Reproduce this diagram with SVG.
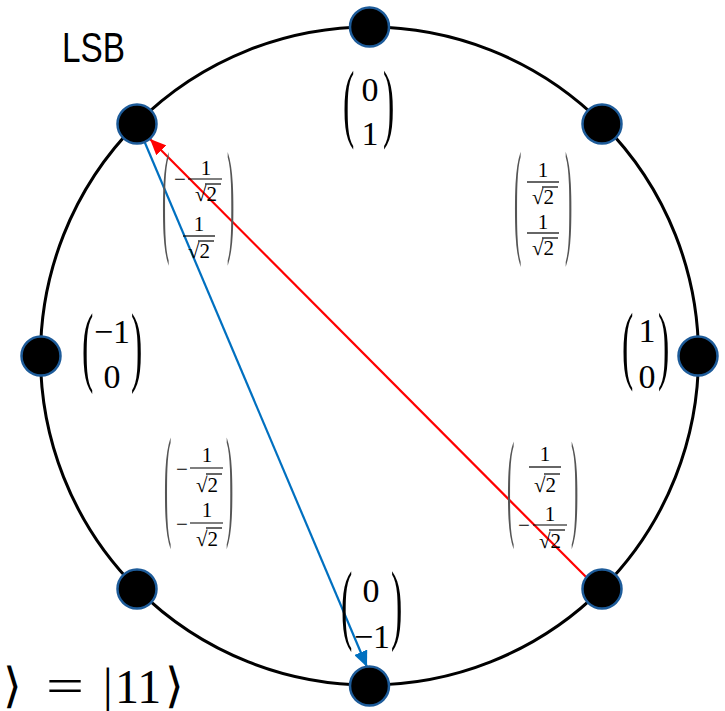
<svg xmlns="http://www.w3.org/2000/svg" width="725" height="711" viewBox="0 0 725 711">
<style>
.m{font-family:"Liberation Serif","Times New Roman",serif;fill:#000}
.big{font-size:34px}
.sm{font-size:21px}
.bp{font-family:"Liberation Serif",serif;font-size:34px;fill:#000}
.sp{font-family:"Liberation Serif",serif;font-size:22px;fill:#555}
.bar{stroke:#000;stroke-width:1.2}
.node{fill:#000;stroke:#1d5b99;stroke-width:2.5}
.eq{font-family:"Liberation Serif","Times New Roman",serif;font-size:48px;fill:#000}
</style>
<defs>
<marker id="ar" markerUnits="userSpaceOnUse" markerWidth="18" markerHeight="14" refX="16" refY="7" orient="auto"><path d="M0,0 L16,7 L0,14 Z" fill="#ff0000"/></marker>
<marker id="ab" markerUnits="userSpaceOnUse" markerWidth="18" markerHeight="14" refX="16" refY="7" orient="auto"><path d="M0,0 L16,7 L0,14 Z" fill="#0070c0"/></marker>
</defs>
<rect width="725" height="711" fill="#fff"/>
<circle cx="369.5" cy="356" r="329" fill="none" stroke="#000" stroke-width="3"/>
<text x="62" y="62" font-family="Liberation Sans,Arial,sans-serif" font-size="42" textLength="63" lengthAdjust="spacingAndGlyphs">LSB</text>
<g id="connectors">
<line x1="600" y1="591" x2="150" y2="139" stroke="#ff0000" stroke-width="2.2" marker-end="url(#ar)"/>
<line x1="137" y1="124" x2="367" y2="667" stroke="#0070c0" stroke-width="2.2" marker-end="url(#ab)"/>
</g>
<g id="nodes">
<circle id="n0" class="node" cx="698" cy="356" r="19.5"/>
<circle id="n1" class="node" cx="602" cy="124" r="19.5"/>
<circle id="n2" class="node" cx="369.5" cy="27" r="19.5"/>
<circle id="n3" class="node" cx="137" cy="124" r="19.5"/>
<circle id="n4" class="node" cx="41" cy="356" r="19.5"/>
<circle id="n5" class="node" cx="137" cy="589" r="19.5"/>
<circle id="n6" class="node" cx="369.5" cy="686" r="19.5"/>
<circle id="n7" class="node" cx="602" cy="589" r="19.5"/>
</g>
<g id="vec-top">
<text class="bp" transform="translate(343,130.6) scale(1,2.58)">(</text>
<text class="bp" transform="translate(383,130.6) scale(1,2.58)">)</text>
<text class="m big" x="370" y="101" text-anchor="middle">0</text>
<text class="m big" x="370" y="145" text-anchor="middle">1</text>
</g>
<g id="vec-left">
<text class="bp" transform="translate(82,375.3) scale(1,2.61)">(</text>
<text class="bp" transform="translate(131,375.3) scale(1,2.61)">)</text>
<text class="m big" x="112" y="343" text-anchor="middle">−1</text>
<text class="m big" x="112" y="388" text-anchor="middle">0</text>
</g>
<g id="vec-right">
<text class="bp" transform="translate(622,373.2) scale(1,2.52)">(</text>
<text class="bp" transform="translate(658,373.2) scale(1,2.52)">)</text>
<text class="m big" x="647" y="342" text-anchor="middle">1</text>
<text class="m big" x="647" y="388" text-anchor="middle">0</text>
</g>
<g id="vec-bottom">
<text class="bp" transform="translate(341,633.3) scale(1,2.61)">(</text>
<text class="bp" transform="translate(391,633.3) scale(1,2.61)">)</text>
<text class="m big" x="371" y="602" text-anchor="middle">0</text>
<text class="m big" x="372" y="648" text-anchor="middle">−1</text>
</g>
<g id="vec-tl">
<text class="sp" transform="translate(162,238.6) scale(1,5.71)">(</text>
<text class="sp" transform="translate(227,238.6) scale(1,5.71)">)</text>
<text class="m sm" x="180" y="186" text-anchor="middle">−</text>
<text class="m sm" x="206" y="175" text-anchor="middle">1</text>
<line class="bar" x1="188" y1="179" x2="222" y2="179"/>
<text class="m sm" x="206" y="201" text-anchor="middle">√2</text>
<line class="bar" x1="205" y1="184" x2="221" y2="184"/>
<text class="m sm" x="199" y="231" text-anchor="middle">1</text>
<line class="bar" x1="183" y1="236" x2="215" y2="236"/>
<text class="m sm" x="199" y="258" text-anchor="middle">√2</text>
<line class="bar" x1="198" y1="241" x2="214" y2="241"/>
</g>
<g id="vec-tr">
<text class="sp" transform="translate(514,240.2) scale(1,5.81)">(</text>
<text class="sp" transform="translate(565,240.2) scale(1,5.81)">)</text>
<text class="m sm" x="543" y="177" text-anchor="middle">1</text>
<line class="bar" x1="527" y1="182" x2="559" y2="182"/>
<text class="m sm" x="543" y="204" text-anchor="middle">√2</text>
<line class="bar" x1="542" y1="187" x2="558" y2="187"/>
<text class="m sm" x="543" y="229" text-anchor="middle">1</text>
<line class="bar" x1="527" y1="233" x2="559" y2="233"/>
<text class="m sm" x="543" y="255" text-anchor="middle">√2</text>
<line class="bar" x1="542" y1="238" x2="558" y2="238"/>
</g>
<g id="vec-bl">
<text class="sp" transform="translate(164,523.3) scale(1,5.56)">(</text>
<text class="sp" transform="translate(226,523.3) scale(1,5.56)">)</text>
<text class="m sm" x="182" y="476" text-anchor="middle">−</text>
<text class="m sm" x="207" y="462" text-anchor="middle">1</text>
<line class="bar" x1="190" y1="468" x2="223" y2="468"/>
<text class="m sm" x="207" y="492" text-anchor="middle">√2</text>
<line class="bar" x1="206" y1="474" x2="222" y2="474"/>
<text class="m sm" x="182" y="531" text-anchor="middle">−</text>
<text class="m sm" x="207" y="517" text-anchor="middle">1</text>
<line class="bar" x1="190" y1="523" x2="223" y2="523"/>
<text class="m sm" x="207" y="546" text-anchor="middle">√2</text>
<line class="bar" x1="206" y1="528" x2="222" y2="528"/>
</g>
<g id="vec-br">
<text class="sp" transform="translate(507,524) scale(1,5.4)">(</text>
<text class="sp" transform="translate(571,524) scale(1,5.4)">)</text>
<text class="m sm" x="545" y="461" text-anchor="middle">1</text>
<line class="bar" x1="529" y1="467" x2="561" y2="467"/>
<text class="m sm" x="545" y="492" text-anchor="middle">√2</text>
<line class="bar" x1="544" y1="474" x2="560" y2="474"/>
<text class="m sm" x="524" y="532" text-anchor="middle">−</text>
<text class="m sm" x="550" y="521" text-anchor="middle">1</text>
<line class="bar" x1="533" y1="525" x2="567" y2="525"/>
<text class="m sm" x="550" y="548" text-anchor="middle">√2</text>
<line class="bar" x1="549" y1="530" x2="565" y2="530"/>
</g>
<g id="ket">
<text class="eq" x="3" y="702">⟩</text>
<text class="eq" x="46" y="702" textLength="38" lengthAdjust="spacingAndGlyphs">=</text>
<text class="eq" x="103" y="702">|</text>
<text class="eq" x="115" y="703">11</text>
<text class="eq" x="165" y="702">⟩</text>
</g>
</svg>
